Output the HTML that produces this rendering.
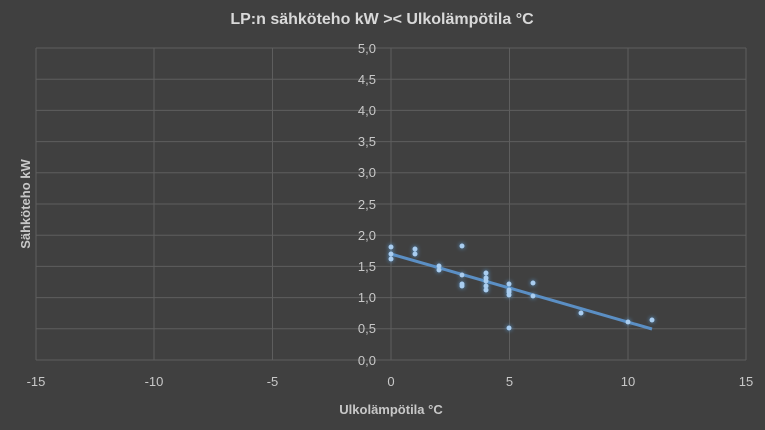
<!DOCTYPE html>
<html><head><meta charset="utf-8"><style>
body{margin:0;background:#404040;}
svg{display:block;font-family:"Liberation Sans",sans-serif;}
</style></head><body>
<svg width="765" height="430" viewBox="0 0 765 430">
<defs><filter id="g" x="-2" y="-2" width="5" height="5"><feGaussianBlur stdDeviation="2"/></filter></defs>
<rect width="765" height="430" fill="#404040"/>
<text x="382" y="24" fill="#d9d9d9" font-size="16" font-weight="bold" text-anchor="middle">LP:n sähköteho kW &gt;&lt; Ulkolämpötila °C</text>
<g stroke="#5e5e5e" stroke-width="1">
<line x1="36" y1="48" x2="746" y2="48"/><line x1="36" y1="79.2" x2="746" y2="79.2"/><line x1="36" y1="110.4" x2="746" y2="110.4"/><line x1="36" y1="141.6" x2="746" y2="141.6"/><line x1="36" y1="172.8" x2="746" y2="172.8"/><line x1="36" y1="204" x2="746" y2="204"/><line x1="36" y1="235.2" x2="746" y2="235.2"/><line x1="36" y1="266.4" x2="746" y2="266.4"/><line x1="36" y1="297.6" x2="746" y2="297.6"/><line x1="36" y1="328.8" x2="746" y2="328.8"/><line x1="36" y1="360" x2="746" y2="360"/>
<line x1="36" y1="48" x2="36" y2="360"/><line x1="154" y1="48" x2="154" y2="360"/><line x1="272.5" y1="48" x2="272.5" y2="360"/><line x1="391" y1="48" x2="391" y2="360"/><line x1="509.5" y1="48" x2="509.5" y2="360"/><line x1="628" y1="48" x2="628" y2="360"/><line x1="746" y1="48" x2="746" y2="360"/>
</g>
<g fill="#c8c8c8" font-size="13" text-anchor="end">
<text x="376" y="53">5,0</text><text x="376" y="84">4,5</text><text x="376" y="115">4,0</text><text x="376" y="146">3,5</text><text x="376" y="177">3,0</text><text x="376" y="209">2,5</text><text x="376" y="240">2,0</text><text x="376" y="271">1,5</text><text x="376" y="302">1,0</text><text x="376" y="333">0,5</text><text x="376" y="365">0,0</text>
</g>
<g fill="#c8c8c8" font-size="13" text-anchor="middle">
<text x="36" y="386">-15</text><text x="154" y="386">-10</text><text x="272.5" y="386">-5</text><text x="391" y="386">0</text><text x="509.5" y="386">5</text><text x="628" y="386">10</text><text x="746" y="386">15</text>
</g>
<text x="391" y="414" fill="#c8c8c8" font-size="13" font-weight="bold" text-anchor="middle">Ulkolämpötila °C</text>
<text transform="translate(30,204) rotate(-90)" fill="#c8c8c8" font-size="13" font-weight="bold" text-anchor="middle">Sähköteho kW</text>
<line x1="391" y1="254" x2="652" y2="329" stroke="#5b8fc4" stroke-width="3"/>
<g id="pts">
<circle cx="391" cy="247" r="2.5"/><circle cx="391" cy="254" r="2.5"/><circle cx="391" cy="259" r="2.5"/><circle cx="415" cy="249" r="2.5"/><circle cx="415" cy="254" r="2.5"/><circle cx="439" cy="266" r="2.5"/><circle cx="439" cy="270" r="2.5"/><circle cx="462" cy="246" r="2.5"/><circle cx="462" cy="275" r="2.5"/><circle cx="462" cy="284" r="2.5"/><circle cx="462" cy="286" r="2.5"/><circle cx="486" cy="273" r="2.5"/><circle cx="486" cy="278" r="2.5"/><circle cx="486" cy="281" r="2.5"/><circle cx="486" cy="286" r="2.5"/><circle cx="486" cy="290" r="2.5"/><circle cx="509" cy="284" r="2.5"/><circle cx="509" cy="290" r="2.5"/><circle cx="509" cy="292" r="2.5"/><circle cx="509" cy="295" r="2.5"/><circle cx="509" cy="328" r="2.5"/><circle cx="533" cy="283" r="2.5"/><circle cx="533" cy="296" r="2.5"/><circle cx="581" cy="313" r="2.5"/><circle cx="628" cy="322" r="2.5"/><circle cx="652" cy="320" r="2.5"/>
</g>
<use href="#pts" fill="#5b9bd5" filter="url(#g)"/>
<use href="#pts" fill="#a9cdf0"/>
</svg>
</body></html>
